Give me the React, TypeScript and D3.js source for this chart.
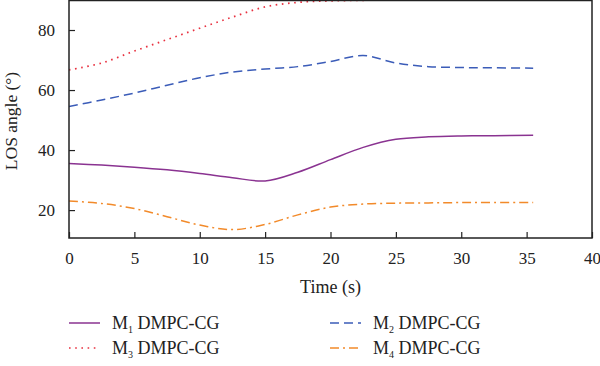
import { useEffect, useRef } from 'react'
import * as d3 from 'd3'

const times = [0, 2.5, 5, 7.5, 10, 12.5, 15, 17.5, 20, 22.5, 25, 27.5, 30, 32.5, 35.5]
const m1 = [35.5, 35.0, 34.3, 33.4, 32.2, 30.8, 29.7, 32.6, 36.8, 40.9, 43.6, 44.4, 44.7, 44.8, 44.9]
const m2 = [54.5, 56.7, 59.0, 61.6, 64.1, 66.0, 67.0, 67.8, 69.5, 71.5, 69.0, 67.8, 67.5, 67.4, 67.3]
const m3 = [66.7, 69.0, 73.0, 76.8, 80.6, 84.3, 87.7, 89.2, 89.7, 89.9, 90, 90, 90, 90, 90]
const m4 = [23.0, 22.2, 20.5, 17.8, 15.0, 13.5, 15.2, 18.4, 21.0, 22.0, 22.3, 22.4, 22.5, 22.5, 22.5]

const xTicks = [0, 5, 10, 15, 20, 25, 30, 35, 40]
const yTicks = [20, 40, 60, 80]

const series = [
  { name: '1', values: m1, color: '#8a3391', dash: '' },
  { name: '2', values: m2, color: '#3b5cb8', dash: '9,5' },
  { name: '3', values: m3, color: '#e8303f', dash: '1.6,4.6' },
  { name: '4', values: m4, color: '#f28a2a', dash: '9,4,2,4' },
]

const FONT = '"Liberation Serif", "DejaVu Serif", serif'

export default function App() {
  const svgRef = useRef<SVGSVGElement>(null)

  useEffect(() => {
    if (!svgRef.current) return
    const width = 600
    const height = 366
    const margin = { top: 0, right: 8, bottom: 128, left: 69 }
    const innerW = width - margin.left - margin.right
    const innerH = height - margin.top - margin.bottom

    const svg = d3.select(svgRef.current)
    svg.selectAll('*').remove()
    svg.attr('width', width).attr('height', height)

    const g = svg.append('g').attr('transform', `translate(${margin.left},${margin.top})`)

    const xScale = d3.scaleLinear().domain([0, 40]).range([0, innerW])
    const yScale = d3.scaleLinear().domain([10.7, 90]).range([innerH, 0])

    svg.append('defs').append('clipPath').attr('id', 'plot-clip')
      .append('rect').attr('x', 0).attr('y', 0).attr('width', innerW).attr('height', innerH)

    // lines
    const line = d3.line<number>()
      .x((_, i) => xScale(times[i]))
      .y(d => yScale(d))
      .curve(d3.curveCatmullRom.alpha(0.5))

    const lines = g.append('g').attr('clip-path', 'url(#plot-clip)')
    series.forEach(s => {
      lines.append('path').datum(s.values)
        .attr('fill', 'none')
        .attr('stroke', s.color)
        .attr('stroke-width', s.name === '3' ? 1.7 : 1.5)
        .attr('stroke-dasharray', s.dash || null)
        .attr('d', line)
    })

    // frame
    g.append('rect')
      .attr('x', 0).attr('y', 0.5).attr('width', innerW).attr('height', innerH - 0.5)
      .attr('fill', 'none').attr('stroke', '#222').attr('stroke-width', 1.5)

    // x axis
    const xAxis = g.append('g').attr('transform', `translate(0,${innerH})`)
      .call(d3.axisBottom(xScale).tickValues(xTicks).tickSize(-6).tickPadding(14).tickFormat(d3.format('d')))
    xAxis.select('.domain').remove()
    xAxis.selectAll('line').attr('stroke', '#222').attr('stroke-width', 1.2)
    xAxis.selectAll('text').attr('fill', '#222').attr('font-size', '17px').attr('font-family', FONT)

    // y axis
    const yAxis = g.append('g')
      .call(d3.axisLeft(yScale).tickValues(yTicks).tickSize(-6).tickPadding(14).tickFormat(d3.format('d')))
    yAxis.select('.domain').remove()
    yAxis.selectAll('line').attr('stroke', '#222').attr('stroke-width', 1.2)
    yAxis.selectAll('text').attr('fill', '#222').attr('font-size', '17px').attr('font-family', FONT)

    // axis titles
    g.append('text')
      .attr('x', innerW / 2).attr('y', innerH + 55)
      .attr('text-anchor', 'middle')
      .attr('fill', '#222').attr('font-size', '18px').attr('font-family', FONT)
      .text('Time (s)')

    svg.append('text')
      .attr('transform', 'rotate(-90)')
      .attr('x', -121).attr('y', 17)
      .attr('text-anchor', 'middle')
      .attr('fill', '#222').attr('font-size', '17.5px').attr('font-family', FONT)
      .text('LOS angle (°)')

    // legend
    const legend = svg.append('g')
    series.forEach((s, i) => {
      const col = i % 2
      const row = Math.floor(i / 2)
      const lx = col === 0 ? 69 : 330
      const ly = 323 + row * 25
      legend.append('line')
        .attr('x1', lx).attr('x2', lx + 31).attr('y1', ly).attr('y2', ly)
        .attr('stroke', s.color).attr('stroke-width', 1.5)
        .attr('stroke-dasharray', s.dash || null)
      const t = legend.append('text')
        .attr('x', lx + 43).attr('y', ly + 6)
        .attr('fill', '#222').attr('font-size', '18px').attr('font-family', FONT)
      t.append('tspan').text('M')
      t.append('tspan').attr('font-size', '10px').attr('dy', 4).text(s.name)
      t.append('tspan').attr('dy', -4).text(' DMPC-CG')
    })
  }, [])

  return (
    <div style={{ position: 'absolute', left: 0, top: 0 }}>
      <svg ref={svgRef} style={{ display: 'block', background: '#fff' }} />
    </div>
  )
}
